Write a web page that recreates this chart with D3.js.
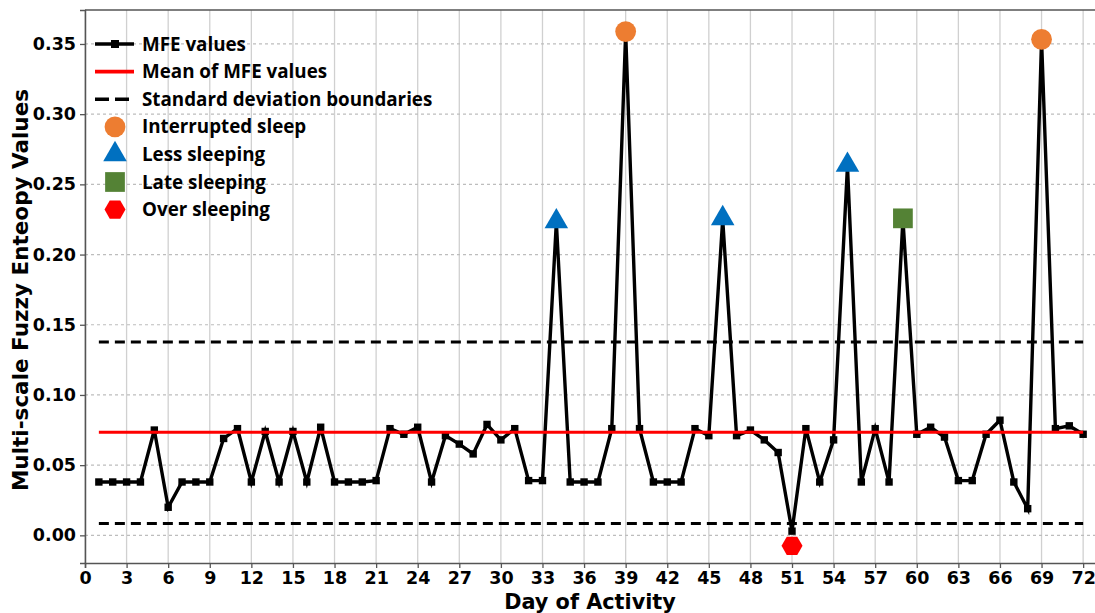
<!DOCTYPE html>
<html>
<head>
<meta charset="utf-8">
<script src="https://cdn.jsdelivr.net/npm/d3@7"></script>
<style>
body { margin: 0; background: #fff; }
svg text { font-family: "DejaVu Sans", sans-serif; font-weight: bold; }
.legend text { font-family: "Open Sans", sans-serif; font-weight: bold; }
</style>
</head>
<body>
<svg id="chart" width="1095" height="613"></svg>
<script>
// day index and MFE value
var days = d3.range(1, 73);
var mfe = [
	0.038, 0.038, 0.038, 0.038, 0.075, 0.020, 0.038, 0.038, 0.038, 0.069,
	0.076, 0.038, 0.074, 0.038, 0.074, 0.038, 0.077, 0.038, 0.038, 0.038,
	0.039, 0.076, 0.072, 0.077, 0.038, 0.071, 0.065, 0.058, 0.079, 0.068,
	0.076, 0.039, 0.039, 0.223, 0.038, 0.038, 0.038, 0.076, 0.358, 0.076,
	0.038, 0.038, 0.038, 0.076, 0.071, 0.225, 0.071, 0.075, 0.068, 0.059,
	0.003, 0.076, 0.038, 0.068, 0.263, 0.038, 0.076, 0.038, 0.225, 0.072,
	0.077, 0.070, 0.039, 0.039, 0.072, 0.082, 0.038, 0.019, 0.353, 0.076,
	0.078, 0.072
];
var meanValue = 0.0735;
var stdLower = 0.0085;
var stdUpper = 0.1378;

var interruptedDays = [39, 69];
var interruptedValues = [0.3588, 0.3533];
var lessDays = [34, 46, 55];
var lessValues = [0.2235, 0.2258, 0.2638];
var lateDays = [59];
var lateValues = [0.2258];
var overDays = [51];
var overValues = [-0.0075];

var xTicks = d3.range(0, 73, 3);
var yTicks = [0, 0.05, 0.10, 0.15, 0.20, 0.25, 0.30, 0.35];

var legendLabels = ["MFE values", "Mean of MFE values", "Standard deviation boundaries",
	"Interrupted sleep", "Less sleeping", "Late sleeping", "Over sleeping"];

var orange = "#ed7d31", blue = "#0070c0", green = "#548235", red = "#ff0000";

var margin = {top: 10, left: 85},
	width = 1012,
	height = 553;

var svg = d3.select("#chart");
var g = svg.append("g").attr("transform", "translate(" + margin.left + "," + margin.top + ")");

var x = d3.scaleLinear().domain([0, 73]).range([0, width]);
var y = d3.scaleLinear().domain([-0.0197, 0.3742]).range([height, 0]);

// grid
g.append("g").selectAll("line").data(xTicks).enter().append("line")
	.attr("x1", function(d) { return x(d); }).attr("x2", function(d) { return x(d); })
	.attr("y1", 0).attr("y2", height)
	.style("stroke", "#d0d0d0").style("stroke-width", 1.3);
g.append("g").selectAll("line").data(yTicks).enter().append("line")
	.attr("x1", 0).attr("x2", width)
	.attr("y1", function(d) { return y(d); }).attr("y2", function(d) { return y(d); })
	.style("stroke", "#bdbdbd").style("stroke-width", 1.2).style("stroke-dasharray", "3,3");

// axes
var xAxis = g.append("g").attr("transform", "translate(0," + height + ")")
	.call(d3.axisBottom(x).tickValues(xTicks).tickSize(5).tickPadding(4));
var yAxis = g.append("g")
	.call(d3.axisLeft(y).tickValues(yTicks).tickSize(5).tickPadding(4).tickFormat(d3.format(".2f")));
[xAxis, yAxis].forEach(function(a) {
	a.selectAll("text").style("font-size", "17.5px").style("fill", "#000");
	a.selectAll("line").style("stroke", "#555").style("stroke-width", 1.3);
	a.select(".domain").style("stroke", "#555").style("stroke-width", 1.5);
});
g.append("line").attr("x1", 0).attr("x2", width).attr("y1", 0).attr("y2", 0)
	.style("stroke", "#555").style("stroke-width", 1.5);

// reference lines
function hline(v, color, dash) {
	g.append("line")
		.attr("x1", x(1)).attr("x2", x(72))
		.attr("y1", y(v)).attr("y2", y(v))
		.style("stroke", color).style("stroke-width", 3)
		.style("stroke-dasharray", dash);
}
hline(stdUpper, "#000", "10,6");
hline(stdLower, "#000", "10,6");

// MFE line
var data = days.map(function(d, i) { return {day: d, value: mfe[i]}; });
var valueline = d3.line()
	.x(function(d) { return x(d.day); })
	.y(function(d) { return y(d.value); });
g.append("path").datum(data).attr("d", valueline)
	.style("fill", "none").style("stroke", "#000").style("stroke-width", 3.4)
	.style("stroke-linejoin", "miter");
g.append("g").selectAll("rect").data(data).enter().append("rect")
	.attr("x", function(d) { return x(d.day) - 3.7; })
	.attr("y", function(d) { return y(d.value) - 3.7; })
	.attr("width", 7.4).attr("height", 7.4).style("fill", "#000");

hline(meanValue, red, null);

// event markers
var sym = {
	circle: d3.symbol().type(d3.symbolCircle).size(340),
	triangle: d3.symbol().type(d3.symbolTriangle).size(240),
	square: d3.symbol().type(d3.symbolSquare).size(390)
};
function hexagon(r) {
	var pts = d3.range(6).map(function(i) {
		var a = Math.PI / 3 * i;
		return [r * Math.cos(a), r * Math.sin(a)];
	});
	return "M" + pts.join("L") + "Z";
}
function markers(ds, vs, path, color) {
	g.append("g").selectAll("path").data(ds).enter().append("path")
		.attr("transform", function(d, i) { return "translate(" + x(d) + "," + y(vs[i]) + ")"; })
		.attr("d", path).style("fill", color);
}
markers(interruptedDays, interruptedValues, sym.circle(), orange);
markers(lessDays, lessValues, sym.triangle(), blue);
markers(lateDays, lateValues, sym.square(), green);
markers(overDays, overValues, hexagon(10.5), red);

// legend
var legend = svg.append("g").attr("class", "legend");
var ly = function(i) { return 44 + i * 27.6; };
legendLabels.forEach(function(t, i) {
	legend.append("text").attr("x", 142).attr("y", ly(i)).attr("dy", "0.35em")
		.style("font-size", "18.8px").style("fill", "#000").text(t);
});
legend.append("line").attr("x1", 95).attr("x2", 134).attr("y1", ly(0)).attr("y2", ly(0))
	.style("stroke", "#000").style("stroke-width", 3.6);
legend.append("rect").attr("x", 111).attr("y", ly(0) - 4).attr("width", 8).attr("height", 8);
legend.append("line").attr("x1", 95).attr("x2", 134).attr("y1", ly(1)).attr("y2", ly(1))
	.style("stroke", red).style("stroke-width", 3.6);
legend.append("line").attr("x1", 95).attr("x2", 134).attr("y1", ly(2)).attr("y2", ly(2))
	.style("stroke", "#000").style("stroke-width", 3.6).style("stroke-dasharray", "14,6");
legend.append("path").attr("transform", "translate(115," + ly(3) + ")").attr("d", sym.circle()).style("fill", orange);
legend.append("path").attr("transform", "translate(115," + ly(4) + ")").attr("d", sym.triangle()).style("fill", blue);
legend.append("path").attr("transform", "translate(115," + ly(5) + ")").attr("d", sym.square()).style("fill", green);
legend.append("path").attr("transform", "translate(115," + ly(6) + ")").attr("d", hexagon(10.5)).style("fill", red);

// axis titles
svg.append("text").attr("x", 590).attr("y", 609).attr("text-anchor", "middle")
	.style("font-size", "20.8px").text("Day of Activity");
svg.append("text").attr("transform", "translate(28,290) rotate(-90)").attr("text-anchor", "middle")
	.style("font-size", "21.5px").text("Multi-scale Fuzzy Enteopy Values");
</script>
</body>
</html>
